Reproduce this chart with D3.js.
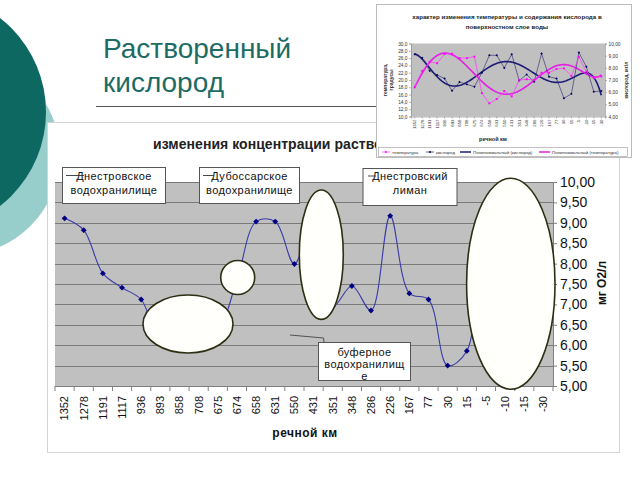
<!DOCTYPE html>
<html><head><meta charset="utf-8">
<script src="https://cdn.jsdelivr.net/npm/d3@7"></script>
<style>
body{margin:0;background:#fff}
svg{display:block}
text{font-family:"Liberation Sans",Arial,sans-serif}
</style>
</head><body>
<svg id="c" width="640" height="480"></svg>
<script>
// ---------- DATA ----------
const categories = ["1352","1278","1191","1117","936","893","858","708","675","674","658","631","550","431","351","348","286","226","167","77","30","15","-5","-10","-15","-30"];
const oxygen = [9.11,8.82,7.76,7.41,7.12,6.12,6.83,6.64,6.45,7.60,9.03,9.03,7.99,9.12,6.95,7.45,6.85,9.17,7.27,7.12,5.50,5.86,9.26,8.09,6.04,6.10];
const temperature = [18.0,22.5,25.0,24.6,27.1,27.2,26.0,26.0,26.4,16.4,13.6,14.8,17.0,15.5,20.0,20.2,20.0,22.0,22.0,23.0,23.2,21.1,26.3,22.3,20.5,21.0];
const oxygenTicks = [5,5.5,6,6.5,7,7.5,8,8.5,9,9.5,10];
const insetTempTicks = [10,12,14,16,18,20,22,24,26,28,30];
const insetOxyTicks = [4,5,6,7,8,9,10];
const slideTitle = ["Растворенный","кислород"];
const chartTitle = "изменения концентрации растворенного кислорода";
const insetTitle = ["характер изменения температуры и содержания кислорода в","поверхностном слое воды"];
const xTitle = "речной км";
const yTitle = "мг O2/л";
const regionLabels = [["Днестровское","водохранилище"],["Дубоссарское","водохранилище"],["Днестровский","лиман"],["буферное","водохранилищ","е"]];
const legendLabels = ["температура","кислород","Полиномиальный (кислород)","Полиномиальный (температура)"];
const insetAxisTitles = [["температура,","градусы"],["кислород, мг/л"]];

// ---------- SETUP ----------
const svg = d3.select("#c");
const F = '"Liberation Sans",Arial,sans-serif';
const defs = svg.append("defs");

// slide decoration
svg.append("circle").attr("cx",-40).attr("cy",155).attr("r",100).attr("fill","#97cdca");
svg.append("circle").attr("cx",-73).attr("cy",112).attr("r",119).attr("fill","#0c6861");

// slide title
slideTitle.forEach((t,i)=>{
  svg.append("text").attr("x",103).attr("y",58+i*33.5).attr("font-size",28)
    .attr("fill","#1d6b64").text(t);
});
svg.append("line").attr("x1",96).attr("x2",380).attr("y1",106.5).attr("y2",106.5)
  .attr("stroke","#555").attr("stroke-width",1.2);

// main chart frame
svg.append("rect").attr("x",47.5).attr("y",122.5).attr("width",572).attr("height",330)
  .attr("fill","#fff").attr("stroke","#d4d4d4");

// scales
const x = d3.scaleBand().domain(categories).range([55,553]);
const bw = x.bandwidth();
const xc = c => x(c)+bw/2;
const y = d3.scaleLinear().domain([5,10]).range([386,182]);

// plot area
const g = svg.append("g");
g.append("rect").attr("x",55).attr("y",182).attr("width",498).attr("height",204).attr("fill","#c0c0c0");
g.selectAll("line.grid").data(oxygenTicks).join("line").attr("class","grid")
  .attr("x1",55).attr("x2",553).attr("y1",d=>Math.round(y(d))+0.5).attr("y2",d=>Math.round(y(d))+0.5)
  .attr("stroke","#7a7a7a").attr("stroke-width",1);

// y axis right
const yAx = g.append("g").attr("transform","translate(553,0)")
  .call(d3.axisRight(y).tickValues(oxygenTicks).tickSize(4).tickPadding(3)
    .tickFormat(d=>d.toFixed(2).replace(".",",")));
yAx.select(".domain").attr("stroke","#808080");
yAx.selectAll(".tick line").attr("stroke","#808080");
yAx.selectAll("text").attr("font-family",F).attr("font-size",14).attr("fill","#111");

// x axis
const xAx = g.append("g").attr("transform","translate(0,386)")
  .call(d3.axisBottom(x).tickSize(0).tickPadding(0));
xAx.select(".domain").attr("stroke","#808080");
xAx.selectAll(".tick text").attr("font-family",F).attr("font-size",11).attr("fill","#111")
  .attr("transform","rotate(-90)").attr("text-anchor","end").attr("x",-10).attr("y",0).attr("dy","0.35em");
g.selectAll("line.xt").data(d3.range(categories.length+1)).join("line").attr("class","xt")
  .attr("x1",i=>55+i*bw).attr("x2",i=>55+i*bw).attr("y1",386).attr("y2",391).attr("stroke","#808080");

// line
const line = d3.line().x((d,i)=>xc(categories[i])).y(d=>y(d)).curve(d3.curveCatmullRom.alpha(0.5));
g.append("path").datum(oxygen).attr("d",line).attr("fill","none").attr("stroke","#3a3aa8").attr("stroke-width",1.1);
g.selectAll("path.mk").data(oxygen).join("path").attr("class","mk")
  .attr("d",d3.symbol(d3.symbolSquare,17))
  .attr("transform",(d,i)=>`translate(${xc(categories[i])},${y(d)}) rotate(45)`)
  .attr("fill","#000080");

// chart title (right part lies under the inset)
defs.append("clipPath").attr("id","ctc").append("rect").attr("x",48).attr("y",123).attr("width",328).attr("height",40);
svg.append("g").attr("clip-path","url(#ctc)").append("text").attr("x",153).attr("y",148.5).attr("font-size",14).attr("font-weight","bold")
  .attr("letter-spacing",0.05).attr("fill","#222").text(chartTitle);

// axis titles
svg.append("text").attr("x",305).attr("y",437).attr("text-anchor","middle").attr("font-size",12)
  .attr("font-weight","bold").attr("letter-spacing",0.5).attr("fill","#111").text(xTitle);
svg.append("text").attr("transform","translate(606,283) rotate(-90)").attr("text-anchor","middle")
  .attr("font-size",12).attr("font-weight","bold").attr("fill","#111").text(yTitle);

// ellipses
const ell = [[188,324,45,29],[237.7,277.5,17,17],[321.3,254.7,22,64.7],[510.8,283.8,44.2,105.5]];
svg.selectAll("ellipse.e").data(ell).join("ellipse").attr("class","e")
  .attr("cx",d=>d[0]).attr("cy",d=>d[1]).attr("rx",d=>d[2]).attr("ry",d=>d[3])
  .attr("fill","#fffffb").attr("stroke","#2e2e14").attr("stroke-width",1.6);

// leader of buffer label
svg.append("polyline").attr("points","290,335 323.5,338 324,342").attr("fill","none").attr("stroke","#444").attr("stroke-width",0.9);

// annotation boxes
const boxes = [
  {x:62,y:167,w:103,h:36,base:179.5,step:14},
  {x:199,y:167,w:100,h:36,base:179.5,step:14},
  {x:362.5,y:168,w:94,h:37,base:180,step:14},
  {x:318,y:342,w:92,h:38,base:356,step:12.2}
];
boxes.forEach((b,i)=>{
  defs.append("clipPath").attr("id","cb"+i).append("rect").attr("x",b.x).attr("y",b.y).attr("width",b.w).attr("height",b.h);
  svg.append("rect").attr("x",b.x+0.5).attr("y",b.y+0.5).attr("width",b.w).attr("height",b.h)
    .attr("fill","#fff").attr("stroke","#555").attr("stroke-width",1);
  const tg = svg.append("g").attr("clip-path",`url(#cb${i})`);
  regionLabels[i].forEach((t,j)=>{
    tg.append("text").attr("x",b.x+b.w/2+0.5).attr("y",b.base+j*b.step).attr("text-anchor","middle")
      .attr("font-size",11).attr("letter-spacing",0.4).attr("fill","#111").text(t);
  });
});
// small leader marks at first words
[[66,84,175.5],[203,214,175.5],[368,376,176]].forEach(s=>{
  svg.append("line").attr("x1",s[0]).attr("x2",s[1]).attr("y1",s[2]).attr("y2",s[2]).attr("stroke","#333").attr("stroke-width",0.9);
});

// ---------- INSET ----------
const ins = svg.append("g");
ins.append("rect").attr("x",376.5).attr("y",4.5).attr("width",255).attr("height",153).attr("fill","#fff").attr("stroke","#bbb");
insetTitle.forEach((t,i)=>{
  ins.append("text").attr("x",507).attr("y",19+i*9.5).attr("text-anchor","middle").attr("font-size",6.2)
    .attr("font-weight","bold").attr("fill","#222").text(t);
});
const ix = d3.scaleBand().domain(categories).range([411,605]);
const ibw = ix.bandwidth();
const ixc = c => ix(c)+ibw/2;
const iyT = d3.scaleLinear().domain([10,30]).range([116.5,43.5]);
const iyO = d3.scaleLinear().domain([4,10]).range([116.5,43.5]);
ins.append("rect").attr("x",411).attr("y",43.5).attr("width",194).attr("height",73).attr("fill","#c0c0c0");

const la = ins.append("g").attr("transform","translate(411,0)")
  .call(d3.axisLeft(iyT).tickValues(insetTempTicks).tickSize(2).tickPadding(1.5).tickFormat(d=>d.toFixed(1).replace(".",",")));
const ra = ins.append("g").attr("transform","translate(605,0)")
  .call(d3.axisRight(iyO).tickValues(insetOxyTicks).tickSize(2).tickPadding(1.5).tickFormat(d=>d.toFixed(2).replace(".",",")));
const ba = ins.append("g").attr("transform","translate(0,116.5)")
  .call(d3.axisBottom(ix).tickSize(2).tickPadding(1));
[la,ra,ba].forEach(a=>{
  a.select(".domain").attr("stroke","#888").attr("stroke-width",0.6);
  a.selectAll(".tick line").attr("stroke","#888").attr("stroke-width",0.6);
  a.selectAll("text").attr("font-family",F).attr("font-size",4.8).attr("fill","#333");
});
ba.selectAll(".tick text").attr("font-size",4.3).attr("transform","rotate(-90)").attr("text-anchor","end").attr("x",-3).attr("y",0).attr("dy","0.35em");
ins.append("text").attr("x",493).attr("y",141).attr("text-anchor","middle").attr("font-size",5.5).attr("font-weight","bold").attr("fill","#222").text(xTitle);
insetAxisTitles[0].forEach((t,i)=>{
  ins.append("text").attr("transform",`translate(${387+i*5.5},80) rotate(-90)`).attr("text-anchor","middle")
    .attr("font-size",5).attr("font-weight","bold").attr("fill","#333").text(t);
});
ins.append("text").attr("transform","translate(628,80) rotate(-90)").attr("text-anchor","middle")
  .attr("font-size",5).attr("font-weight","bold").attr("fill","#333").text(insetAxisTitles[1][0]);

// polynomial trend (least squares, order 6)
function polyfit(ys,deg){
  const n=ys.length, h=(n-1)/2, m=deg+1;
  const ts=ys.map((_,i)=>(i-h)/h);
  const A=[],b=[];
  for(let j=0;j<m;j++){A.push(new Array(m).fill(0));b.push(0);}
  ts.forEach((t,k)=>{
    for(let j=0;j<m;j++){
      b[j]+=ys[k]*Math.pow(t,j);
      for(let l=0;l<m;l++) A[j][l]+=Math.pow(t,j+l);
    }
  });
  for(let c=0;c<m;c++){
    let p=c; for(let r=c+1;r<m;r++) if(Math.abs(A[r][c])>Math.abs(A[p][c])) p=r;
    [A[c],A[p]]=[A[p],A[c]]; [b[c],b[p]]=[b[p],b[c]];
    for(let r=c+1;r<m;r++){const f=A[r][c]/A[c][c]; for(let l=c;l<m;l++) A[r][l]-=f*A[c][l]; b[r]-=f*b[c];}
  }
  const co=new Array(m).fill(0);
  for(let r=m-1;r>=0;r--){let s=b[r]; for(let l=r+1;l<m;l++) s-=A[r][l]*co[l]; co[r]=s/A[r][r];}
  return i=>{const t=(i-h)/h; return co.reduce((s,c,j)=>s+c*Math.pow(t,j),0);};
}
const fO = polyfit(oxygen,6), fT = polyfit(temperature,6);
const samp = d3.range(0,categories.length-1+0.001,0.1);
const ixi = i => 411+ibw*(i+0.5);
ins.append("path").attr("d",d3.line().x(i=>ixi(i)).y(i=>iyO(fO(i)))(samp)).attr("fill","none").attr("stroke","#1c1c78").attr("stroke-width",1.6);
ins.append("path").attr("d",d3.line().x(i=>ixi(i)).y(i=>iyT(fT(i)))(samp)).attr("fill","none").attr("stroke","#e41ee4").attr("stroke-width",1.6);

// series
ins.append("path").datum(oxygen).attr("d",d3.line().x((d,i)=>ixc(categories[i])).y(d=>iyO(d)))
  .attr("fill","none").attr("stroke","#222266").attr("stroke-width",0.6);
ins.append("path").datum(temperature).attr("d",d3.line().x((d,i)=>ixc(categories[i])).y(d=>iyT(d)))
  .attr("fill","none").attr("stroke","#ff33ff").attr("stroke-width",0.7);
ins.selectAll("path.om").data(oxygen).join("path").attr("class","om")
  .attr("d",d3.symbol(d3.symbolSquare,3)).attr("transform",(d,i)=>`translate(${ixc(categories[i])},${iyO(d)}) rotate(45)`).attr("fill","#000060");
ins.selectAll("path.tm").data(temperature).join("path").attr("class","tm")
  .attr("d",d3.symbol(d3.symbolSquare,3.5)).attr("transform",(d,i)=>`translate(${ixc(categories[i])},${iyT(d)})`).attr("fill","#ff00ff");

// legend
ins.append("rect").attr("x",378.5).attr("y",147.5).attr("width",249).attr("height",9).attr("fill","#fff").attr("stroke","#999").attr("stroke-width",0.6);
const leg = [
  {x1:382,x2:390,tx:392,col:"#ff33ff",w:0.7,mk:"sq"},
  {x1:426,x2:434,tx:436,col:"#222266",w:0.7,mk:"di"},
  {x1:460,x2:471,tx:473,col:"#1c1c78",w:1.5},
  {x1:539,x2:550,tx:552,col:"#e41ee4",w:1.5}
];
leg.forEach((l,i)=>{
  ins.append("line").attr("x1",l.x1).attr("x2",l.x2).attr("y1",152).attr("y2",152).attr("stroke",l.col).attr("stroke-width",l.w);
  if(l.mk) ins.append("path").attr("d",d3.symbol(d3.symbolSquare,3)).attr("transform",`translate(${(l.x1+l.x2)/2},152)${l.mk==="di"?" rotate(45)":""}`).attr("fill",l.mk==="di"?"#000060":"#ff00ff");
  ins.append("text").attr("x",l.tx).attr("y",153.6).attr("font-size",4.4).attr("fill","#333").text(legendLabels[i]);
});
</script>
</body></html>
